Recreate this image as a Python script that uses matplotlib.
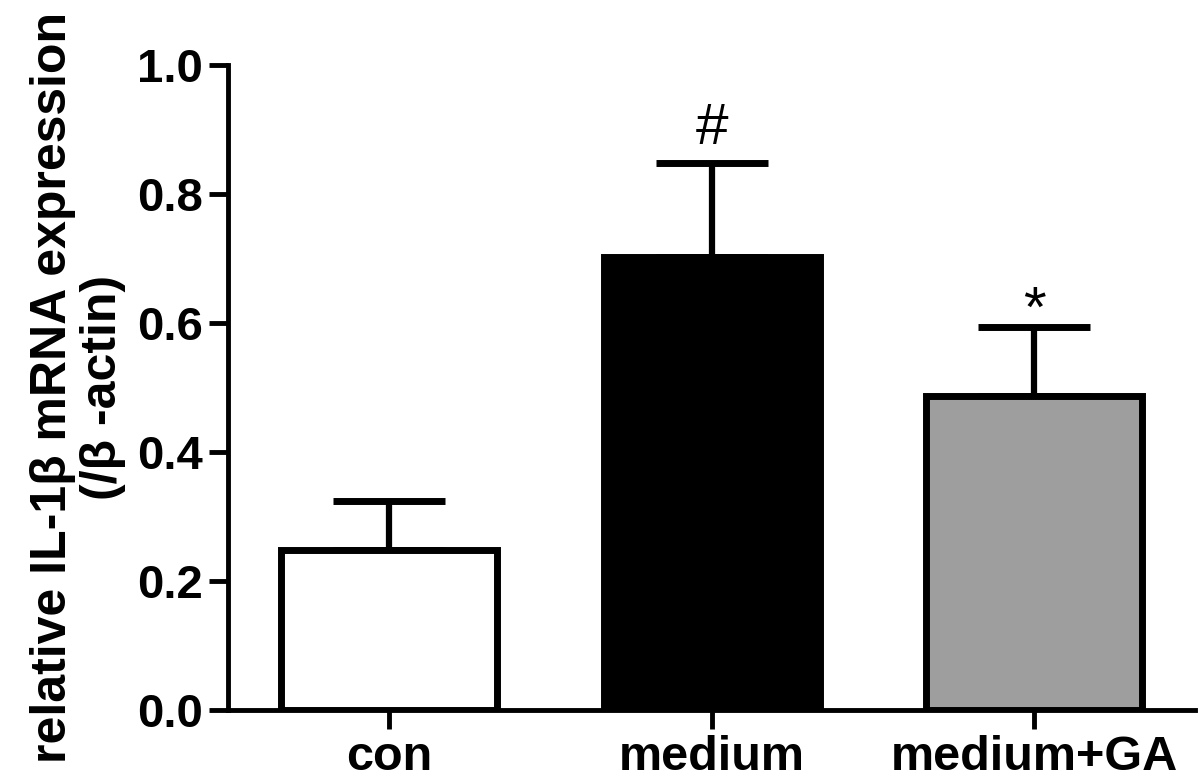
import matplotlib.pyplot as plt

plt.rcParams["font.family"] = ["Liberation Sans", "DejaVu Sans"]

groups = ["con", "medium", "medium+GA"]
means = [0.248, 0.702, 0.486]
sems = [0.075, 0.145, 0.108]
fills = ["white", "black", "#9e9e9e"]
marks = ["", "#", "*"]
mark_lift = [0, 14, 0]  # points above the cap

fig = plt.figure(figsize=(12, 7.8), dpi=100)
ax = fig.add_axes([0.19, 0.09, 0.806, 0.827])

x = list(range(len(groups)))
ax.errorbar(x, means, yerr=[[0] * len(sems), sems], fmt="none", ecolor="black",
            elinewidth=4.5, capsize=40, capthick=5, zorder=1)
ax.bar(x, means, width=0.67, color=fills, edgecolor="black", linewidth=5, zorder=2)

for xi, m, s, mk, lift in zip(x, means, sems, marks, mark_lift):
    if mk:
        ax.annotate(mk, (xi, m + s), xytext=(0, lift), textcoords="offset points",
                    ha="center", va="baseline", fontsize=42)

ax.set_xlim(-0.5, 2.5)
ax.set_ylim(0, 1.0)
ax.set_yticks([0.0, 0.2, 0.4, 0.6, 0.8, 1.0])
ax.set_yticklabels(["0.0", "0.2", "0.4", "0.6", "0.8", "1.0"])
ax.set_xticks(x)
ax.set_xticklabels(groups)

for side in ["top", "right"]:
    ax.spines[side].set_visible(False)
for side in ["left", "bottom"]:
    ax.spines[side].set_linewidth(3.5)
ax.tick_params(axis="both", width=3.5, length=14)
ax.tick_params(axis="y", labelsize=34, pad=4)
ax.tick_params(axis="x", labelsize=35, pad=4)
for lbl in ax.get_xticklabels() + ax.get_yticklabels():
    lbl.set_fontweight("bold")

ax.set_ylabel("relative IL-1\u03b2 mRNA expression\n(/\u03b2 -actin)", fontsize=36,
              fontweight="bold", labelpad=8, linespacing=1.1)

fig.savefig("out.png", dpi=100)
